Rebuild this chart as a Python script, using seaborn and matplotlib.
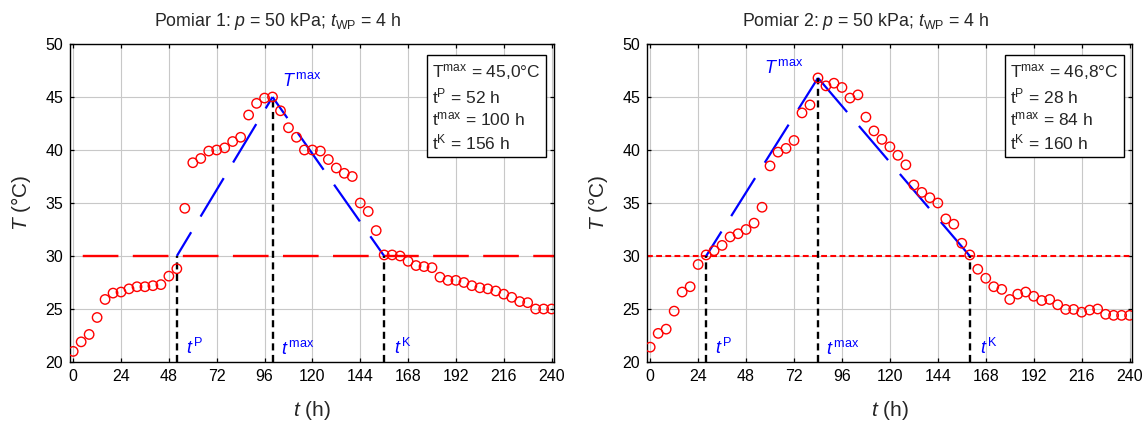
import matplotlib
matplotlib.use("Agg")
import matplotlib.pyplot as plt
import seaborn as sns
import pandas as pd

# Sampling times (h), common to both runs
time_h = [0, 4, 8, 12, 16, 20, 24, 28, 32, 36, 40, 44, 48, 52, 56, 60,
          64, 68, 72, 76, 80, 84, 88, 92, 96, 100, 104, 108, 112, 116, 120,
          124, 128, 132, 136, 140, 144, 148, 152, 156, 160, 164, 168, 172,
          176, 180, 184, 188, 192, 196, 200, 204, 208, 212, 216, 220, 224,
          228, 232, 236, 240]

# Measured temperature (°C), run 1
temp_run1 = [21.0, 21.9, 22.6, 24.2, 25.9, 26.5, 26.6, 26.9, 27.1, 27.1,
             27.2, 27.3, 28.1, 28.8, 34.5, 38.8, 39.2, 39.9, 40.0, 40.2,
             40.8, 41.2, 43.3, 44.4, 44.9, 45.0, 43.7, 42.1, 41.2, 40.0,
             40.0, 39.9, 39.1, 38.3, 37.8, 37.5, 35.0, 34.2, 32.4, 30.1,
             30.1, 30.0, 29.5, 29.1, 29.0, 28.9, 28.0, 27.7, 27.7, 27.5,
             27.2, 27.0, 26.9, 26.7, 26.4, 26.1, 25.7, 25.6, 25.0, 25.0,
             25.0]

# Measured temperature (°C), run 2
temp_run2 = [21.4, 22.7, 23.1, 24.8, 26.6, 27.1, 29.2, 30.1, 30.5, 31.0,
             31.8, 32.1, 32.5, 33.1, 34.6, 38.5, 39.8, 40.15, 40.9, 43.5,
             44.25, 46.8, 46.05, 46.3, 45.9, 44.9, 45.2, 43.1, 41.8, 41.0,
             40.3, 39.5, 38.6, 36.7, 36.0, 35.5, 35.0, 33.5, 33.0, 31.2,
             30.1, 28.75, 27.9, 27.1, 26.85, 25.9, 26.4, 26.6, 26.2, 25.8,
             25.9, 25.4, 24.96, 24.96, 24.7, 24.9, 25.0, 24.5, 24.4, 24.4,
             24.4]

# Characteristic values of each run
threshold = 30.0
titles = ["Pomiar 1: $p$ = 50 kPa; $t_{\\mathrm{WP}}$ = 4 h",
          "Pomiar 2: $p$ = 50 kPa; $t_{\\mathrm{WP}}$ = 4 h"]
t_start = [52, 28]
t_peak = [100, 84]
t_end = [156, 160]
T_peak = [45.0, 46.8]
T_peak_text = ["45,0", "46,8"]

x_ticks = [0, 24, 48, 72, 96, 120, 144, 168, 192, 216, 240]
y_ticks = [20, 25, 30, 35, 40, 45, 50]

sns.set_style("ticks")
plt.rcParams["font.family"] = ["Liberation Sans", "DejaVu Sans"]
plt.rcParams["mathtext.fontset"] = "custom"
plt.rcParams["mathtext.rm"] = "Liberation Sans"
plt.rcParams["mathtext.it"] = "Liberation Sans:italic"
plt.rcParams["mathtext.bf"] = "Liberation Sans:bold"

W, H = 1146, 421
fig = plt.figure(figsize=(W / 100, H / 100), dpi=100)

axes_px = [(70, 44, 484, 318), (647, 44, 485, 318)]   # left, top, width, height
threshold_style = [(15.8, (15.1, 6.1)), (0, (2.8, 1.6))]
threshold_lw = [1.7, 1.5]
rise_style = [(7.7, (20.2, 8.2)), (7.2, (20.2, 8.2))]
fall_style = [(8.6, (20.2, 8.2)), (0, (20.2, 8.2))]
peak_label_shift = [(5, 1.0), (-27, 0.45)]
box_x = [0.748, 0.748]

series = [temp_run1, temp_run2]

for i in range(2):
    l, t, w, h = axes_px[i]
    ax = fig.add_axes([l / W, 1 - (t + h) / H, w / W, h / H])
    df = pd.DataFrame({"t": time_h, "T": series[i]})

    ax.set_xlim(-1.6, 241.2)
    ax.set_ylim(20, 50)
    ax.set_xticks(x_ticks)
    ax.set_yticks(y_ticks)
    ax.grid(True, color="#c8c8c8", lw=0.8, zorder=0)
    ax.set_axisbelow(True)
    ax.tick_params(direction="in", top=True, right=True, length=3,
                   width=0.9, labelsize=11.5, colors="black", pad=5)
    for sp in ax.spines.values():
        sp.set_color("black")
        sp.set_linewidth(1.0)

    # threshold temperature
    ax.axhline(threshold, color="red", lw=threshold_lw[i],
               ls=threshold_style[i], zorder=2)

    # triangle approximation of the heating phase
    ax.plot([t_start[i], t_peak[i]], [threshold, T_peak[i]], color="blue",
            lw=1.6, ls=rise_style[i], zorder=3)
    ax.plot([t_peak[i], t_end[i]], [T_peak[i], threshold], color="blue",
            lw=1.6, ls=fall_style[i], zorder=3)

    # vertical markers down to the time axis
    for tx, ty in [(t_start[i], threshold), (t_peak[i], T_peak[i]),
                   (t_end[i], threshold)]:
        ax.plot([tx, tx], [20, ty], color="black", lw=1.7,
                ls=(0, (3.0, 1.9)), zorder=4, clip_on=False)

    # measured points
    sns.scatterplot(data=df, x="t", y="T", ax=ax, marker="o", s=46,
                    facecolor="none", edgecolor="red", linewidth=1.0,
                    zorder=5, legend=False)

    # labels of the characteristic points
    lab_kw = dict(color="blue", fontsize=13, va="baseline", ha="left")
    ax.text(t_start[i] + 4.5, 20.8, r"$t^{\,\mathrm{P}}$", **lab_kw)
    ax.text(t_peak[i] + 4.0, 20.8, r"$t^{\,\mathrm{max}}$", **lab_kw)
    ax.text(t_end[i] + 5.0, 20.8, r"$t^{\,\mathrm{K}}$", **lab_kw)
    dx, dy = peak_label_shift[i]
    ax.text(t_peak[i] + dx, T_peak[i] + dy, r"$T^{\,\mathrm{max}}$", **lab_kw)

    # summary box
    box_text = (r"T$^{\mathrm{max}}$ = " + T_peak_text[i] + "°C\n"
                + r"t$^{\mathrm{P}}$ = " + f"{t_start[i]} h\n"
                + r"t$^{\mathrm{max}}$ = " + f"{t_peak[i]} h\n"
                + r"t$^{\mathrm{K}}$ = " + f"{t_end[i]} h")
    ax.text(box_x[i], 0.943, box_text, transform=ax.transAxes, fontsize=12.5,
            ha="left", va="top", linespacing=1.25, zorder=6,
            bbox=dict(boxstyle="square,pad=0.3", fc="white", ec="black",
                      lw=1.0))

    ax.set_xlabel("$t$ (h)", fontsize=15)
    ax.set_ylabel("$T$ (°C)", fontsize=15)
    ax.xaxis.set_label_coords(0.5, -0.115)
    ax.yaxis.set_label_coords(-0.076, 0.5)

    title_x = [0.43, 0.45][i]
    ax.text(title_x, 1 + 18 / h, titles[i], transform=ax.transAxes,
            fontsize=12.8, ha="center", va="baseline")

fig.savefig("out.png", dpi=100)
